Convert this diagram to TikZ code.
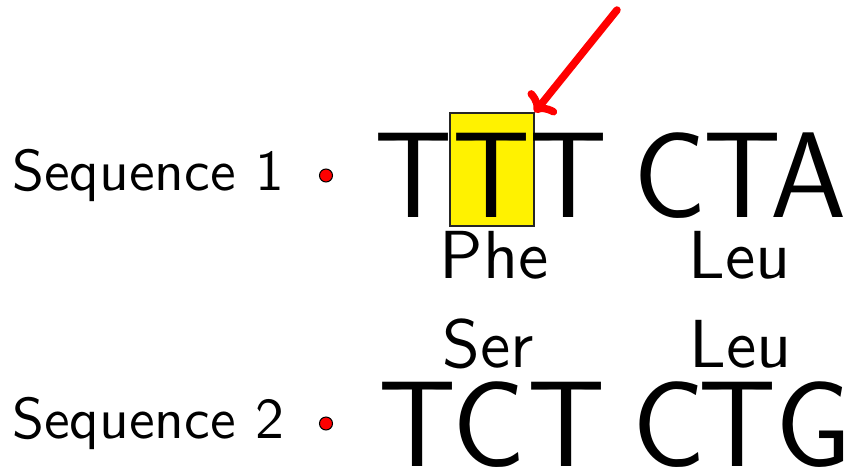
\documentclass[tikz,border=0pt]{standalone}
\usepackage{fontspec}
\newfontfamily\lmsten{lmsans10-regular.otf}
\usetikzlibrary{arrows.meta}
\tikzset{
  bigletter/.style={font=\fontsize{122}{122}\selectfont\sffamily, inner sep=0pt, anchor=base},
  acid/.style={font=\lmsten\fontsize{68}{68}\selectfont, inner sep=0pt, anchor=base},
  seqlabel/.style={font=\lmsten\fontsize{57.6}{58}\selectfont, inner sep=0pt, anchor=base west},
  reddot/.style={circle, fill=red, draw=black, line width=1pt, minimum size=13pt, inner sep=0pt},
  hlbox/.style={fill=yellow, draw=black!85, line width=1.3pt, inner sep=0pt, minimum width=84pt, minimum height=113pt},
  pointer/.style={draw=red, line width=7.5pt, line cap=round,
    -{Computer Modern Rightarrow[length=16pt, width=36pt, line cap=round, line join=round]}}
}
\begin{document}
\begin{tikzpicture}[x=1pt,y=-1pt]
\useasboundingbox (0,0) rectangle (854,469);
% highlight box
\node[hlbox] (box) at (492,169.5) {};
% sequence 1
\node[seqlabel] (s1) at (12,190) {Sequence 1};
\node[reddot] (d1) at (326,175.5) {};
\node[bigletter] (a1) at (414,217.5) {T};
\node[bigletter] (a2) at (492,217.5) {T};
\node[bigletter] (a3) at (569,217.5) {T};
\node[bigletter] (a4) at (670,217.5) {C};
\node[bigletter] (a5) at (743,217.5) {T};
\node[bigletter] (a6) at (809,217.5) {A};
\node[acid] (p1) at (494,278.5) {Phe};
\node[acid] (p2) at (740,278.5) {Leu};
% sequence 2
\node[acid] (q1) at (488.5,367.5) {Ser};
\node[acid] (q2) at (741,367.5) {Leu};
\node[seqlabel] (s2) at (12,438) {Sequence 2};
\node[reddot] (d2) at (326,423.5) {};
\node[bigletter] (b1) at (417.5,466) {T};
\node[bigletter] (b2) at (489,466) {C};
\node[bigletter] (b3) at (567,466) {T};
\node[bigletter] (b4) at (669,466) {C};
\node[bigletter] (b5) at (738,466) {T};
\node[bigletter] (b6) at (813.5,466) {G};
% arrow
\coordinate (astart) at (617,10);
\draw[pointer] (astart) -- (box.north east);
\end{tikzpicture}
\end{document}
